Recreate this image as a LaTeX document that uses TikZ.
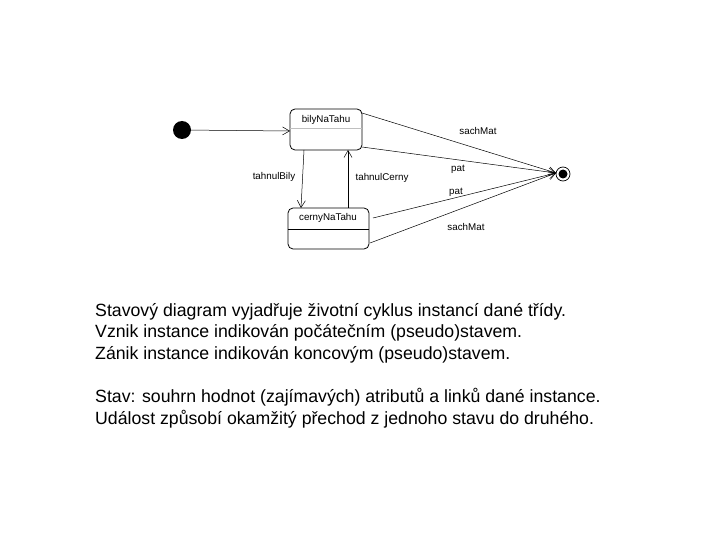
\documentclass[tikz,border=0pt]{standalone}
\usepackage{fontspec}
\setmainfont{Liberation Sans}
\usetikzlibrary{arrows.meta}
\begin{document}
\begin{tikzpicture}[x=1pt,y=-1pt,
  st/.style={draw,rounded corners=5pt,line width=0.8pt},
  tr/.style={-{Straight Barb[length=7pt,width=8pt]},line width=0.5pt},
  lbl/.style={font=\fontsize{9.8}{10}\selectfont,inner sep=0pt},
  body/.style={font=\fontsize{17.7}{21.6}\selectfont,anchor=north west,align=left,inner sep=0pt}]
\useasboundingbox (0,0) rectangle (720,540);
\fill (182,130) circle (9);
\node[circle,fill,inner sep=0pt,minimum size=0pt] (init) at (182,130) {};
\draw[st] (290,109) rectangle (362,150);
\draw[gray!50,line width=1pt] (290,129) -- (362,129);
\node[lbl] (bily) at (326,120) {bilyNaTahu};
\draw[st] (288,208) rectangle (369,249);
\draw[line width=0.6pt] (288,229) -- (369,229);
\node[lbl] (cerny) at (328,218) {cernyNaTahu};
\draw[line width=0.7pt] (563,174) circle (7);
\fill (563,174) circle (4.5);
\coordinate (fin) at (556,173);
\coordinate (b1) at (362,113); \coordinate (b2) at (362,147);
\coordinate (c1) at (373,218); \coordinate (c2) at (370,243);
\coordinate (bb1) at (304,150); \coordinate (ct1) at (301,208);
\coordinate (ct2) at (348,208); \coordinate (bb2) at (348,150);
\coordinate (bl) at (290,131);
\draw[tr] (init) -- (bl);
\draw[tr] (b1) -- (fin);
\draw[tr] (b2) -- (fin);
\draw[tr] (c1) -- (fin);
\draw[tr] (c2) -- (fin);
\draw[tr] (bb1) -- (ct1);
\draw[tr] (ct2) -- (bb2);
\node[lbl] (l1) at (478,131) {sachMat};
\node[lbl] (l2) at (458,169) {pat};
\node[lbl] (l3) at (274,177) {tahnulBily};
\node[lbl] (l4) at (382,178) {tahnulCerny};
\node[lbl] (l5) at (456,192) {pat};
\node[lbl] (l6) at (466,227) {sachMat};
\node[body] (t1) at (95,303) {Stavový diagram vyjadřuje životní cyklus instancí dané třídy.\\
Vznik instance indikován počátečním (pseudo)stavem.\\
Zánik instance indikován koncovým (pseudo)stavem.\\[21.6pt]
Stav: souhrn hodnot (zajímavých) atributů a linků dané instance.\\
Událost způsobí okamžitý přechod z jednoho stavu do druhého.};
\end{tikzpicture}
\end{document}
